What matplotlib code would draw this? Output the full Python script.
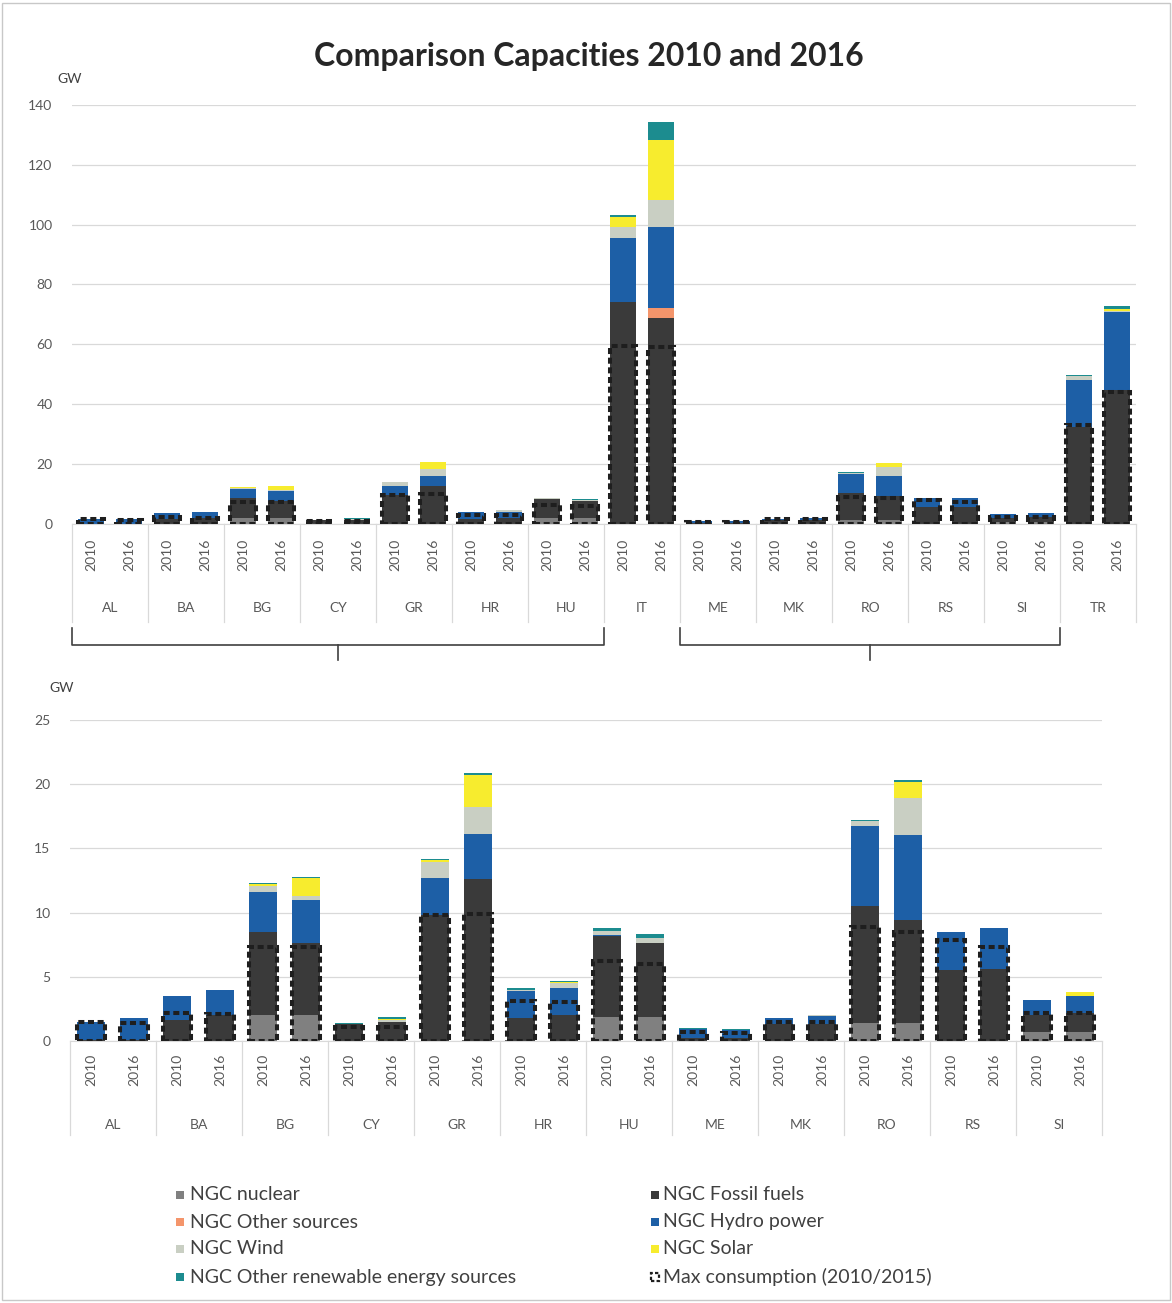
import matplotlib
matplotlib.use('Agg')
import matplotlib.pyplot as plt
from matplotlib.patches import Rectangle
import numpy as np

plt.rcParams['font.family'] = ['Lato', 'DejaVu Sans']

# data (GW), order of countries in the top chart
countries = ['AL', 'BA', 'BG', 'CY', 'GR', 'HR', 'HU', 'IT', 'ME', 'MK', 'RO', 'RS', 'SI', 'TR']
years = ['2010', '2016']

nuclear_2010 = [0, 0, 2.0, 0, 0, 0, 1.9, 0, 0, 0, 1.4, 0, 0.7, 0]
nuclear_2016 = [0, 0, 2.0, 0, 0, 0, 1.9, 0, 0, 0, 1.4, 0, 0.7, 0]
fossil_2010 = [0.1, 1.6, 6.5, 1.35, 9.8, 1.8, 6.3, 74.3, 0.2, 1.3, 9.1, 5.5, 1.3, 32.5]
fossil_2016 = [0.1, 2.0, 5.6, 1.45, 12.6, 2.0, 5.7, 68.7, 0.2, 1.3, 8.0, 5.6, 1.5, 44.8]
other_2010 = [0, 0, 0, 0, 0, 0, 0, 0, 0, 0, 0, 0, 0, 0]
other_2016 = [0, 0, 0, 0, 0, 0, 0, 3.3, 0, 0, 0, 0, 0, 0]
hydro_2010 = [1.4, 1.9, 3.1, 0, 2.9, 2.1, 0.05, 21.1, 0.75, 0.5, 6.2, 3.0, 1.2, 15.6]
hydro_2016 = [1.65, 2.0, 3.4, 0, 3.5, 2.1, 0.05, 27.3, 0.65, 0.65, 6.6, 3.2, 1.3, 26.0]
wind_2010 = [0, 0, 0.5, 0, 1.2, 0.1, 0.3, 3.9, 0, 0, 0.4, 0, 0, 1.4]
wind_2016 = [0, 0, 0.3, 0.15, 2.1, 0.45, 0.35, 8.9, 0, 0.05, 2.9, 0, 0, 0.2]
solar_2010 = [0, 0, 0.15, 0, 0.2, 0, 0, 3.4, 0, 0, 0, 0, 0, 0]
solar_2016 = [0, 0, 1.4, 0.1, 2.5, 0.05, 0.05, 20.1, 0, 0, 1.3, 0, 0.3, 0.8]
renew_2010 = [0, 0, 0.05, 0.05, 0.05, 0.1, 0.25, 0.5, 0.05, 0, 0.1, 0, 0, 0.3]
renew_2016 = [0.05, 0, 0.1, 0.15, 0.15, 0.1, 0.25, 6.1, 0.05, 0.05, 0.1, 0, 0, 1.0]
maxcons_2010 = [1.5, 2.2, 7.3, 1.1, 9.8, 3.1, 6.2, 59.5, 0.7, 1.5, 8.9, 7.9, 2.2, 33.0]
maxcons_2015 = [1.4, 2.1, 7.3, 1.1, 9.9, 3.0, 6.0, 59.0, 0.6, 1.5, 8.5, 7.3, 2.2, 44.0]

series = [
    ('NGC nuclear', nuclear_2010, nuclear_2016, '#808080'),
    ('NGC Fossil fuels', fossil_2010, fossil_2016, '#3a3a3a'),
    ('NGC Other sources', other_2010, other_2016, '#f4956b'),
    ('NGC Hydro power', hydro_2010, hydro_2016, '#1d5fa6'),
    ('NGC Wind', wind_2010, wind_2016, '#c9cfc3'),
    ('NGC Solar', solar_2010, solar_2016, '#f7ec2e'),
    ('NGC Other renewable energy sources', renew_2010, renew_2016, '#1c8c8f'),
]

GRID = '#d9d9d9'
TXT = '#595959'
DASH = (0, (1.5, 0.9))


def draw_panel(ax, keep, ylim, step, bar_w, year_y, country_y, sep_y):
    idx = [countries.index(c) for c in keep]
    n = len(idx)
    x10 = np.arange(n) * 2
    x16 = x10 + 1
    b10 = np.zeros(n)
    b16 = np.zeros(n)
    for name, v10, v16, col in series:
        a10 = np.array([v10[i] for i in idx])
        a16 = np.array([v16[i] for i in idx])
        ax.bar(x10, a10, bar_w, bottom=b10, color=col, linewidth=0, zorder=2)
        ax.bar(x16, a16, bar_w, bottom=b16, color=col, linewidth=0, zorder=2)
        b10 += a10
        b16 += a16
    m10 = [maxcons_2010[i] for i in idx]
    m15 = [maxcons_2015[i] for i in idx]
    ax.bar(x10, m10, bar_w, fill=False, edgecolor='#1e1e1e', linewidth=2.9,
           linestyle=DASH, zorder=3)
    ax.bar(x16, m15, bar_w, fill=False, edgecolor='#1e1e1e', linewidth=2.9,
           linestyle=DASH, zorder=3)

    ax.set_xlim(-0.5, 2 * n - 0.5)
    ax.set_ylim(*ylim)
    ax.set_yticks(np.arange(ylim[0], ylim[1] + 1, step))
    ax.tick_params(axis='y', length=0, labelsize=10, labelcolor=TXT, pad=14)
    ax.set_xticks([])
    ax.grid(axis='y', color=GRID, linewidth=0.9, zorder=0)
    ax.set_axisbelow(True)
    for s in ['left', 'right', 'top']:
        ax.spines[s].set_visible(False)
    ax.spines['bottom'].set_color(GRID)

    tr = ax.get_xaxis_transform()
    for k in range(n):
        ax.text(x10[k], year_y, years[0], rotation=90, ha='center', va='center',
                fontsize=10, color=TXT, transform=tr)
        ax.text(x16[k], year_y, years[1], rotation=90, ha='center', va='center',
                fontsize=10, color=TXT, transform=tr)
        ax.text(x10[k] + 0.5, country_y, keep[k], ha='center', va='center',
                fontsize=10, color=TXT, transform=tr)
    for k in range(n + 1):
        ax.plot([2 * k - 0.5, 2 * k - 0.5], [0, sep_y], color=GRID, lw=0.9,
                transform=tr, clip_on=False)


fig = plt.figure(figsize=(11.72, 13.03), dpi=100)
fig.add_artist(Rectangle((0.002, 0.002), 0.996, 0.996, transform=fig.transFigure,
                         fill=False, edgecolor='#c8c8c8', lw=1))

fig.text(0.502, 0.957, 'Comparison Capacities 2010 and 2016', ha='center', va='center',
         fontsize=23, fontweight='bold', color='#262626')

# top chart
ax1 = fig.add_axes([0.0614, 0.5979, 0.908, 0.3216])
draw_panel(ax1, countries, (0, 140), 20, 0.68, -0.074, -0.2, -0.234)
fig.text(0.049, 0.939, 'GW', fontsize=10, color='#404040', va='center')

# braces under the groups
tr = ax1.get_xaxis_transform()
for x0, x1 in [(-0.5, 13.5), (15.5, 25.5)]:
    xm = (x0 + x1) / 2
    ax1.plot([x0, x0, x1, x1], [-0.248, -0.289, -0.289, -0.248], color='#404040', lw=1.2,
             transform=tr, clip_on=False)
    ax1.plot([xm, xm], [-0.289, -0.325], color='#404040', lw=1.2,
             transform=tr, clip_on=False)

# bottom chart (without IT and TR)
ax2 = fig.add_axes([0.0597, 0.2011, 0.8805, 0.2464])
small = [c for c in countries if c not in ('IT', 'TR')]
draw_panel(ax2, small, (0, 25), 5, 0.65, -0.09, -0.262, -0.293)
fig.text(0.042, 0.472, 'GW', fontsize=10, color='#404040', va='center')

# legend
left_items = [series[0], series[2], series[4], series[6]]
right_items = [series[1], series[3], series[5]]
W, H = 1172.0, 1303.0
rows = [1195, 1222, 1249, 1277]
for r, item in zip(rows, left_items):
    fig.add_artist(Rectangle((176 / W, 1 - (r + 4) / H), 8 / W, 8 / H,
                             transform=fig.transFigure, color=item[3], lw=0))
    fig.text(190 / W, 1 - r / H, item[0], fontsize=14, color='#404040', va='center')
for r, item in zip(rows[:3], right_items):
    fig.add_artist(Rectangle((651 / W, 1 - (r + 4) / H), 8 / W, 8 / H,
                             transform=fig.transFigure, color=item[3], lw=0))
    fig.text(663 / W, 1 - r / H, item[0], fontsize=14, color='#404040', va='center')
fig.add_artist(Rectangle((651 / W, 1 - (rows[3] + 4) / H), 8 / W, 8 / H,
                         transform=fig.transFigure, fill=False, edgecolor='#1e1e1e',
                         lw=1.6, linestyle=(0, (1.5, 1))))
fig.text(663 / W, 1 - rows[3] / H, 'Max consumption (2010/2015)', fontsize=14,
         color='#404040', va='center')

fig.savefig('out.png', dpi=100, facecolor='white')
